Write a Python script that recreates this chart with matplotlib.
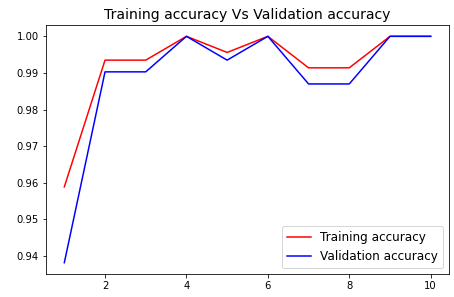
import matplotlib
matplotlib.use('Agg')
import matplotlib.pyplot as plt

#accuracy values per epoch
epochs = [1, 2, 3, 4, 5, 6, 7, 8, 9, 10]
acc = [0.9589, 0.9935, 0.9935, 1.0, 0.9956, 1.0, 0.9914, 0.9914, 1.0, 1.0]
val_acc = [0.9382, 0.9903, 0.9903, 1.0, 0.9935, 1.0, 0.9870, 0.9870, 1.0, 1.0]

fig = plt.figure(figsize=(454/72, 297/72), dpi=72)
ax = fig.add_axes([0.1013, 0.0774, 0.8877, 0.8384])

#plot for acc vs val_acc
ax.plot(epochs, acc, 'r', label='Training accuracy')
ax.plot(epochs, val_acc, 'b', label='Validation accuracy')
ax.set_title('Training accuracy Vs Validation accuracy', fontsize=14)
ax.legend(loc='lower right', fontsize=12)

fig.savefig('out.png', dpi=72)
